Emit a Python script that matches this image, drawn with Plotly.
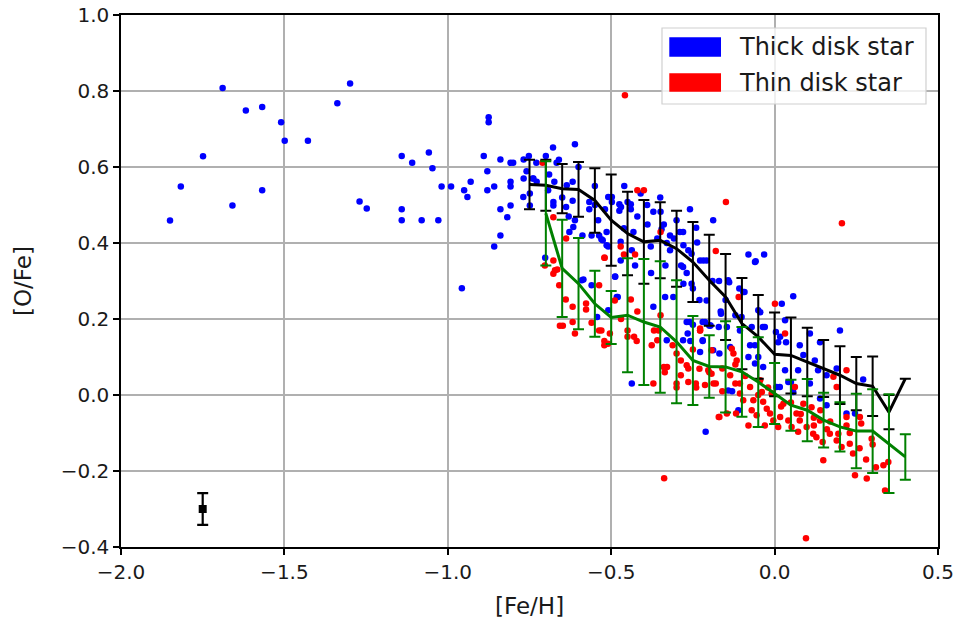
import plotly.graph_objects as go

# ---------------- data ----------------
blue_x = [-1.85, -1.817, -1.749, -1.689, -1.659, -1.618, -1.568, -1.568, -1.51, -1.499, -1.428, -1.338, -1.299,
          -1.27, -1.248, -1.141, -1.141, -1.141, -1.109, -1.08, -1.058, -1.047, -1.029, -1.019, -0.99, -0.957,
          -0.95, -0.94, -0.93, -0.89, -0.879, -0.879, -0.858, -0.839, -0.808, -0.80, -0.808, -0.808, -0.839,
          -0.818, -0.808, -0.839, -0.858, -0.875, -0.875,
          -0.768, -0.752, -0.729, -0.759, -0.768, -0.74, -0.769, -0.749, -0.749, -0.700, -0.678, -0.611, -0.667,
          -0.660, -0.738, -0.728, -0.693, -0.674, -0.677, -0.677, -0.636, -0.618, -0.618, -0.638, -0.611, -0.616,
          -0.628, -0.588, -0.567, -0.567, -0.54, -0.56, -0.537, -0.526, -0.514, -0.509, -0.702, -0.585,
          -0.498, -0.498, -0.475, -0.47, -0.45, -0.44, -0.44, -0.475, -0.519, -0.371, -0.349, -0.339, -0.389,
          -0.259, -0.188, -0.461, -0.432, -0.514, -0.53, -0.509, -0.471, -0.437, -0.379, -0.359, -0.346, -0.320,
          -0.32, -0.308, -0.290, -0.28, -0.279, -0.264, -0.237, -0.254, -0.228, -0.208, -0.334, -0.286, -0.28,
          -0.378, -0.427, -0.471, -0.488, -0.269, -0.080, -0.058, -0.032, -0.142,
          -0.590, -0.56, -0.543, -0.509, -0.483, -0.48, -0.437, -0.371, -0.335, -0.31, -0.33, -0.28, -0.269,
          -0.26, -0.25, -0.266, -0.258, -0.220, -0.22, -0.228, -0.200, -0.196, -0.254, -0.25, -0.279, -0.488,
          -0.06, 0.057, 0.022, 0.20, 0.271, -0.208, -0.213, -0.22, -0.188, -0.169, -0.164, -0.171, -0.146,
          -0.136, -0.139, -0.108, -0.096, -0.092, -0.101, -0.106, -0.075, -0.06, -0.080, -0.06, -0.05, -0.035,
          -0.03, -0.044, 0.004, 0.011, 0.035, 0.032, 0.042, 0.05, 0.057, 0.072, 0.088, 0.108, 0.123, 0.133,
          0.159, 0.139, 0.159, 0.190, 0.220, 0.246, -0.111, -0.142, -0.13, 0.006, 0.016, 0.077, -0.211,
          -0.218, -0.17, -0.165, -0.198, -0.05, 0.032, -0.07, -0.036, 0.017, 0.139, 0.108,
          -0.46, -0.41, -0.39, -0.35, -0.42, -0.30, -0.33, -0.24, -0.19, -0.23, -0.15, -0.12, -0.55,
          -0.60, -0.55, -0.65, -0.69, -0.63]
blue_y = [0.459, 0.549, 0.628, 0.808, 0.499, 0.749, 0.758, 0.539, 0.718, 0.669, 0.669, 0.768, 0.820,
          0.509, 0.491, 0.629, 0.489, 0.46, 0.611, 0.46, 0.638, 0.597, 0.46, 0.549, 0.549, 0.281,
          0.539, 0.521, 0.561, 0.629, 0.589, 0.539, 0.549, 0.620, 0.611, 0.611, 0.561, 0.549, 0.489,
          0.468, 0.499, 0.420, 0.391, 0.731, 0.718,
          0.62, 0.629, 0.611, 0.589, 0.570, 0.57, 0.521, 0.530, 0.499, 0.629, 0.651, 0.660, 0.611,
          0.619, 0.570, 0.561, 0.539, 0.561, 0.508, 0.499, 0.552, 0.561, 0.511, 0.495, 0.460, 0.442,
          0.429, 0.420, 0.508, 0.489, 0.460, 0.42, 0.42, 0.407, 0.394, 0.521, 0.361, 0.304,
          0.521, 0.508, 0.502, 0.495, 0.508, 0.502, 0.489, 0.485, 0.489, 0.482, 0.482, 0.449, 0.449,
          0.489, 0.460, 0.439, 0.429, 0.429, 0.41, 0.391, 0.403, 0.381, 0.391, 0.412, 0.436, 0.420,
          0.381, 0.412, 0.429, 0.429, 0.394, 0.381, 0.401, 0.372, 0.354, 0.354, 0.341, 0.341, 0.337,
          0.321, 0.341, 0.354, 0.312, 0.321, 0.370, 0.352, 0.370, 0.302,
          0.302, 0.289, 0.205, 0.223, 0.258, 0.258, 0.030, 0.232, 0.258, 0.258, 0.144, 0.144, 0.192,
          0.192, 0.185, 0.162, 0.142, 0.192, 0.142, 0.113, 0.183, 0.183, 0.293, 0.28, 0.293, 0.311,
          0.35, 0.260, 0.240, 0.17, 0.041, 0.249, 0.192, 0.144, 0.118, 0.109, 0.214, 0.179, 0.179,
          0.126, 0.297, 0.280, 0.271, 0.271, 0.205, 0.170, 0.131, 0.131, 0.100, 0.083, 0.10, 0.074,
          0.179, 0.218, 0.166, 0.139, 0.139, 0.065, 0.034, 0.034, 0.008, 0.065, 0.105, 0.162, 0.091, 0.065,
          0.052, -0.009, -0.027, 0.070, -0.049, -0.049, -0.040, 0.012, 0.01, 0.021, 0.021, 0.131, -0.097,
          0.354, 0.30, 0.22, 0.183, 0.223, 0.197, 0.179, 0.179, 0.153, 0.139, 0.030,
          0.55, 0.53, 0.50, 0.52, 0.47, 0.46, 0.40, 0.44, 0.30, 0.25, 0.25, 0.21, 0.50,
          0.60, 0.55, 0.52, 0.58, 0.47]

red_x = [-0.458, 0.206, -0.338, 0.096,
         -0.710, -0.677, -0.638, -0.677, -0.672, -0.665, -0.703, -0.521,
         -0.420, -0.400, -0.149, -0.349, -0.471, -0.520, -0.461, -0.427, -0.180,
         -0.677, -0.659, -0.639, -0.618, -0.618, -0.611, -0.657, -0.648, -0.577, -0.577, -0.537, -0.537,
         -0.53, -0.521, -0.521, -0.51, -0.489, -0.504, -0.450, -0.45, -0.430, -0.422, -0.440, -0.376,
         -0.369, -0.355, -0.349, -0.359, -0.371, -0.339, -0.329, -0.336, -0.312, -0.300, -0.287, -0.287,
         -0.30, -0.30, -0.269, -0.264, -0.264, -0.241, -0.24, -0.230, -0.228, -0.193, -0.193, -0.171,
         0.001, 0.032, -0.228, -0.203, -0.187, -0.18, -0.169, -0.146, -0.136, -0.126, -0.116, -0.118,
         -0.106, -0.106, -0.096, -0.080, -0.075, -0.070, -0.065, -0.055, -0.044, -0.039, -0.035, -0.030,
         -0.024, -0.014, -0.009, -0.004, 0.011, 0.017, 0.027, 0.042, 0.052, 0.062, 0.067, 0.072, 0.077,
         0.088, 0.098, 0.113, 0.118, 0.12, 0.128, 0.139, 0.147, 0.149, 0.16, 0.169, 0.18, 0.19, 0.195,
         0.205, 0.220, 0.22, 0.22, 0.23, 0.24, 0.246, 0.261, 0.265, 0.282, 0.297, 0.30, 0.333, 0.348, 0.338,
         -0.11, -0.228, -0.131, -0.213, -0.12, -0.09, -0.16,
         0.02, 0.05, 0.08, 0.12, 0.14, 0.17, 0.19, 0.23, 0.26, 0.28, 0.31, -0.05, -0.02, -0.12, -0.16,
         -0.20, -0.25, -0.42, -0.47, -0.56]
red_y = [0.789, 0.452, -0.219, -0.377,
         0.611, 0.468, 0.412, 0.354, 0.328, 0.33, 0.341, 0.361,
         0.539, 0.539, 0.508, 0.429, 0.391, 0.361, 0.370, 0.370, 0.379,
         0.319, 0.289, 0.251, 0.232, 0.192, 0.162, 0.182, 0.182, 0.241, 0.225, 0.289, 0.170,
         0.17, 0.142, 0.131, 0.135, 0.249, 0.162, 0.170, 0.153, 0.153, 0.142, 0.251, 0.131,
         0.170, 0.17, 0.210, 0.144, 0.030, 0.074, 0.074, 0.06, 0.131, 0.109, 0.091, 0.052,
         0.030, 0.02, 0.078, 0.07, 0.034, 0.03, 0.02, 0.069, 0.170, 0.118, 0.056, -0.058,
         0.240, 0.162, 0.170, 0.065, 0.030, 0.03, -0.058, -0.049, 0.052, 0.109, 0.091, -0.049,
         0.030, 0.004, -0.014, -0.080, 0.021, -0.040, -0.014, -0.053, 0.039, 0.008, -0.018, -0.080,
         -0.036, -0.049, 0.004, -0.067, -0.084, -0.058, -0.023, -0.067, -0.084, 0.021, -0.049, -0.097, -0.067,
         -0.023, -0.084, -0.032, -0.102, -0.08, -0.111, -0.067, -0.124, -0.172, -0.09, -0.102, 0.048, 0.021, -0.102,
         -0.137, 0.065, -0.058, -0.08, -0.128, -0.154, -0.211, -0.058, -0.075, -0.220, -0.115, -0.13, -0.185, -0.176, -0.251,
         0.258, 0.175, 0.122, 0.026, 0.08, 0.05, 0.07,
         -0.03, -0.02, -0.05, -0.06, -0.04, -0.07, -0.12, -0.10, -0.14, -0.17, -0.19, 0.0, 0.02, 0.03, 0.01,
         0.06, 0.12, 0.22, 0.20, 0.19]

black_x = [-0.75, -0.70, -0.65, -0.60, -0.55, -0.50, -0.45, -0.40, -0.35, -0.30, -0.25, -0.20,
           -0.15, -0.10, -0.05, 0.00, 0.05, 0.10, 0.15, 0.20, 0.25, 0.30, 0.35, 0.40]
black_y = [0.554, 0.552, 0.543, 0.541, 0.512, 0.46, 0.425, 0.403, 0.407, 0.385, 0.35, 0.302,
           0.258, 0.188, 0.153, 0.107, 0.104, 0.087, 0.07, 0.052, 0.03, 0.023, -0.045, 0.043]
black_err = [0.065, 0.067, 0.065, 0.072, 0.085, 0.12, 0.11, 0.11, 0.10, 0.10, 0.105, 0.12,
             0.113, 0.12, 0.11, 0.11, 0.10, 0.09, 0.075, 0.076, 0.07, 0.078, 0.045, 0.0]

green_x = [-0.70, -0.65, -0.60, -0.55, -0.50, -0.45, -0.40, -0.35, -0.30, -0.25, -0.20, -0.15,
           -0.10, -0.05, 0.00, 0.05, 0.10, 0.15, 0.20, 0.25, 0.30, 0.35, 0.40]
green_y = [0.478, 0.333, 0.293, 0.24, 0.204, 0.21, 0.192, 0.179, 0.14, 0.091, 0.075, 0.074,
           0.061, 0.034, 0.004, -0.027, -0.04, -0.066, -0.084, -0.095, -0.095, -0.128, -0.163]
green_err = [0.137, 0.128, 0.12, 0.087, 0.07, 0.15, 0.166, 0.173, 0.162, 0.117, 0.082, 0.12,
             0.118, 0.118, 0.08, 0.067, 0.082, 0.072, 0.065, 0.098, 0.11, 0.13, 0.06]

typ_x = [-1.75]
typ_y = [-0.30]
typ_err = [0.042]

legend_labels = ["Thick disk star", "Thin disk star"]
legend_colors = ["#0000ff", "#ff0000"]

x_ticks = [-2.0, -1.5, -1.0, -0.5, 0.0, 0.5]
y_ticks = [-0.4, -0.2, 0.0, 0.2, 0.4, 0.6, 0.8, 1.0]

# ---------------- figure ----------------
fig = go.Figure()

fig.add_trace(go.Scatter(x=blue_x, y=blue_y, mode="markers",
                         marker=dict(color="#0000ff", size=6.5, line=dict(width=0)),
                         showlegend=False))
fig.add_trace(go.Scatter(x=red_x, y=red_y, mode="markers",
                         marker=dict(color="#ff0000", size=6.5, line=dict(width=0)),
                         showlegend=False))
fig.add_trace(go.Scatter(x=black_x, y=black_y, mode="lines",
                         line=dict(color="black", width=3),
                         error_y=dict(type="data", array=black_err, color="black",
                                      thickness=2, width=5.5),
                         showlegend=False))
fig.add_trace(go.Scatter(x=green_x, y=green_y, mode="lines",
                         line=dict(color="#008000", width=3),
                         error_y=dict(type="data", array=green_err, color="#008000",
                                      thickness=2, width=5.5),
                         showlegend=False))
fig.add_trace(go.Scatter(x=typ_x, y=typ_y, mode="markers",
                         marker=dict(color="black", size=8, symbol="square"),
                         error_y=dict(type="data", array=typ_err, color="black",
                                      thickness=2.2, width=5.5),
                         showlegend=False))

# manual legend (matplotlib-like rectangular patches)
L, R, T, B = 121, 938, 15, 547
def px_x(px):
    return (px - L) / (R - L)
def px_y(py):
    return (B - py) / (B - T)

shapes = [dict(type="rect", xref="paper", yref="paper",
               x0=px_x(662), x1=px_x(926), y0=px_y(104), y1=px_y(28),
               line=dict(color="#d0d0d0", width=1.2),
               fillcolor="rgba(255,255,255,0.8)", layer="above")]
annotations = []
patch_rows = [(37.3, 56.7, 47.5), (73.3, 91.7, 82.8)]
for (ytop, ybot, ymid), lab, col in zip(patch_rows, legend_labels, legend_colors):
    shapes.append(dict(type="rect", xref="paper", yref="paper",
                       x0=px_x(669.3), x1=px_x(721), y0=px_y(ybot), y1=px_y(ytop),
                       line=dict(width=0), fillcolor=col, layer="above"))
    annotations.append(dict(xref="paper", yref="paper", x=px_x(737), y=px_y(ymid),
                            text=lab, showarrow=False, xanchor="left", yanchor="middle",
                            font=dict(size=24, color="#1a1a1a", family="DejaVu Sans")))

# axis titles
annotations.append(dict(xref="paper", yref="paper", x=0.5, y=px_y(606),
                        text="[Fe/H]", showarrow=False, xanchor="center", yanchor="middle",
                        font=dict(size=23, color="#1a1a1a", family="DejaVu Sans")))
annotations.append(dict(xref="paper", yref="paper", x=px_x(23), y=0.5,
                        text="[O/Fe]", showarrow=False, xanchor="center", yanchor="middle",
                        textangle=-90,
                        font=dict(size=23, color="#1a1a1a", family="DejaVu Sans")))

axis_common = dict(showgrid=True, gridcolor="#b0b0b0", gridwidth=1.6,
                   showline=True, linecolor="black", linewidth=1.5, mirror=True,
                   ticks="outside", ticklen=6, tickwidth=1.5, tickcolor="black",
                   zeroline=False, tickfont=dict(size=20), automargin=False,
                   tickformat=".1f")

fig.update_layout(
    width=958, height=623,
    margin=dict(l=L, r=958 - R, t=T, b=623 - B, autoexpand=False),
    plot_bgcolor="white", paper_bgcolor="white",
    font=dict(family="DejaVu Sans", size=20, color="#1a1a1a"),
    shapes=shapes, annotations=annotations,
    xaxis=dict(range=[-2.0, 0.5], tickvals=x_ticks, **axis_common),
    yaxis=dict(range=[-0.4, 1.0], tickvals=y_ticks, **axis_common),
)

fig.write_html("out.html")
